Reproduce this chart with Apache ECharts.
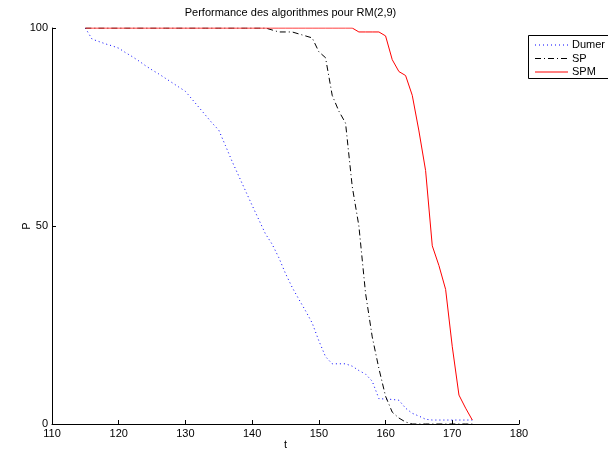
<!DOCTYPE html>
<html>
<head>
<meta charset="utf-8">
<script src="https://cdn.jsdelivr.net/npm/echarts@6/dist/echarts.min.js"></script>
<style>html,body{margin:0;padding:0;background:#fff}#c{width:608px;height:453px}</style>
</head>
<body>
<div id="c"></div>
<script>
const tValues = [115,116,117,118,119,120,121,122,123,124,125,126,127,128,129,130,131,132,133,134,135,136,137,138,139,140,141,142,143,144,145,146,147,148,149,150,151,152,153,154,155,156,157,158,159,160,161,162,163,164,165,166,167,168,169,170,171,172,173];
const dumer = [100,97.2,96.6,96,95.5,94.9,93.8,92.8,91.7,90.5,89.4,88.4,87.3,86.2,85.1,84,82,80,78,76,74.2,70.3,66.3,62.6,58.9,55.2,51.6,48,45.4,42,38,34.5,31.5,28.6,25.5,21,17,15.2,15.2,15.2,14.6,13.5,12.6,10.8,6.4,6.3,6.2,6,4,2.7,2,1.2,1,1,1,1,1,1,1];
const sp = [100,100,100,100,100,100,100,100,100,100,100,100,100,100,100,100,100,100,100,100,100,100,100,100,100,100,100,100,99.5,99,99,99,98.5,98,97.5,94,92.5,83,79,76,60,50,33,22,14,7,3,1.5,0.5,0,0,0,0,0,0,0,0,0,0];
const spm = [100,100,100,100,100,100,100,100,100,100,100,100,100,100,100,100,100,100,100,100,100,100,100,100,100,100,100,100,100,100,100,100,100,100,100,100,100,100,100,100,100,99,99,99,99,98,92,89,88,83,74,64,45,40,34,19.5,7.3,4,1];
const seriesNames = ['Dumer','SP','SPM'];
const seriesColors = ['#0000ff','#000000','#ff0000'];
const seriesDash = [[1,3],[6,3,1,3],null];
const xTicks = {min:110, max:180, interval:10};
const yTicks = {min:0, max:100, interval:50};

const pairs = arr => tValues.map((t,i)=>[t,arr[i]]);
const chart = echarts.init(document.getElementById('c'), null, {renderer:'canvas'});
const font = 'Liberation Sans, Arial, Helvetica, sans-serif';

// legend box drawn as graphic elements
const legendItems = [];
legendItems.push({type:'rect', left:528, top:35, shape:{width:100, height:43},
  style:{fill:'#fff', stroke:'#000', lineWidth:1}, z:100});
seriesNames.forEach((n,i)=>{
  const y = 45 + i*13.5;
  legendItems.push({type:'line', z:101, shape:{x1:535, y1:y, x2:568, y2:y},
    style:{stroke:seriesColors[i], lineWidth:1, lineDash:seriesDash[i]}});
  legendItems.push({type:'text', z:101, x:572, y:y,
    style:{text:n, fill:'#000', font:'11px ' + font, verticalAlign:'middle', align:'left'}});
});

chart.setOption({
  animation:false,
  backgroundColor:'#fff',
  textStyle:{fontFamily:font},
  title:{text:'Performance des algorithmes pour RM(2,9)', left:285.5, textAlign:'center', top:2,
    textStyle:{fontSize:11, fontWeight:'normal', color:'#000', fontFamily:font}},
  grid:{left:52, right:89, top:28, bottom:29, containLabel:false, outerBoundsMode:'none'},
  graphic:legendItems,
  xAxis:{type:'value', min:xTicks.min, max:xTicks.max, interval:xTicks.interval,
    name:'t', nameLocation:'middle', nameGap:15, nameMoveOverlap:false,
    nameTextStyle:{fontSize:11, color:'#000', fontFamily:font},
    axisLine:{onZero:false, lineStyle:{color:'#000', width:1}},
    axisTick:{inside:true, length:4, lineStyle:{color:'#000'}},
    axisLabel:{fontSize:11, color:'#000', margin:4, fontFamily:font},
    splitLine:{show:false}},
  yAxis:{type:'value', min:yTicks.min, max:yTicks.max, interval:yTicks.interval,
    name:'P', nameLocation:'middle', nameGap:20, nameMoveOverlap:false,
    nameTextStyle:{fontSize:11, color:'#000', fontFamily:font},
    axisLine:{show:true, onZero:false, lineStyle:{color:'#000', width:1}},
    axisTick:{show:true, inside:true, length:4, lineStyle:{color:'#000'}},
    axisLabel:{fontSize:11, color:'#000', margin:4, fontFamily:font},
    splitLine:{show:false}},
  series:seriesNames.map((n,i)=>({
    name:n, type:'line', data:pairs([dumer,sp,spm][i]), symbol:'none', z:2+i,
    lineStyle:{color:seriesColors[i], width:1, type:seriesDash[i] || 'solid'},
    itemStyle:{color:seriesColors[i]}
  }))
});
</script>
</body>
</html>
